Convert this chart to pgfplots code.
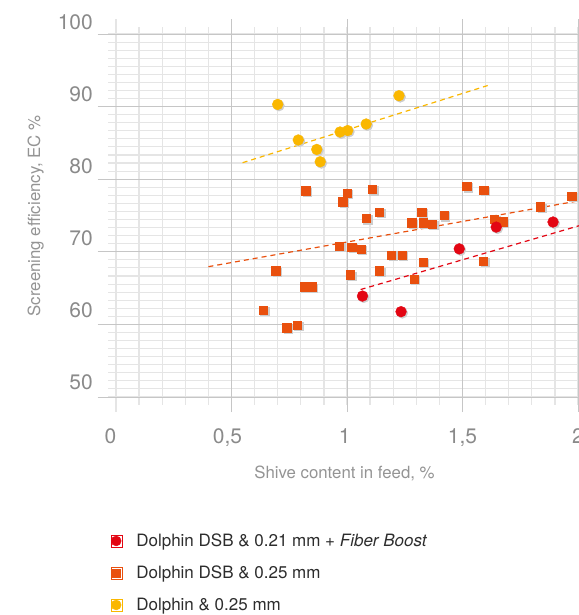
\documentclass[border=0pt]{standalone}
\usepackage{pgfplots}
\usepackage{pgfplotstable}
\pgfplotsset{compat=1.18}
\usepackage{fontspec}
\setmainfont{TeX Gyre Heros}

\definecolor{dsbred}{RGB}{227,6,19}
\definecolor{dsborange}{RGB}{233,80,14}
\definecolor{dolyellow}{RGB}{250,183,0}
\definecolor{shadow}{RGB}{205,205,205}
\definecolor{gridmajor}{RGB}{198,198,198}
\definecolor{gridminor}{RGB}{229,229,229}
\definecolor{ticktext}{RGB}{138,138,138}
\definecolor{labeltext}{RGB}{148,148,148}
\definecolor{legendtext}{RGB}{45,45,45}

% Dolphin & 0.25 mm
\pgfplotstableread{
x y
0.700 90.3
0.789 85.4
0.869 84.1
0.884 82.4
0.970 86.5
1.003 86.7
1.083 87.6
1.225 91.5
}\yellowdata

% Dolphin DSB & 0.25 mm
\pgfplotstableread{
x y
0.638 62.0
0.691 67.4
0.739 59.55
0.785 59.9
0.815 65.2
0.847 65.2
0.821 78.4
0.967 70.8
0.981 76.9
1.001 78.1
1.015 66.85
1.020 70.66
1.061 70.4
1.084 74.6
1.110 78.6
1.141 75.5
1.141 67.4
1.193 69.56
1.239 69.56
1.280 74.0
1.291 66.25
1.323 75.5
1.330 74.0
1.330 68.6
1.370 73.8
1.421 75.0
1.518 79.0
1.592 78.5
1.591 68.7
1.638 74.5
1.674 74.15
1.838 76.2
1.973 77.7
}\orangedata

% Dolphin DSB & 0.21 mm + Fiber Boost
\pgfplotstableread{
x y
1.067 63.9
1.234 61.75
1.486 70.4
1.646 73.4
1.892 74.1
}\reddata

\begin{document}
\begin{tikzpicture}
\begin{axis}[
    scale only axis,
    width=480.5pt, height=392.8pt,
    xmin=-0.08, xmax=2, ymin=47.9, ymax=102,
    clip=false,
    axis line style={draw=none},
    major tick length=0pt, minor tick length=0pt,
    xtick={-0.024,0.483,0.99,1.5,2.0},
    xticklabels={0,{0,5},1,{1,5},2},
    ytick={51.06,60.98,70.89,80.81,90.73,100.65},
    yticklabels={50,60,70,80,90,100},
    xticklabel style={anchor=base, yshift=-31.1pt, inner sep=0pt,
        font=\fontsize{21}{25}\selectfont, text=ticktext},
    yticklabel style={anchor=base east, xshift=-4.5pt, inner sep=0pt,
        font=\fontsize{21}{25}\selectfont, text=ticktext},
    xlabel={Shive content in feed, \%},
    ylabel={Screening efficiency, EC \%},
    xlabel style={at={(0.514,-0.1675)}, anchor=base, inner sep=0pt,
        font=\fontsize{16.8}{20}\selectfont, text=labeltext},
    ylabel style={at={(-0.1197,0.5)}, anchor=base, inner sep=0pt,
        font=\fontsize{16.8}{20}\selectfont, text=labeltext},
    legend style={at={(0.02702,-0.31200)}, anchor=north west,
        draw=none, fill=none, inner sep=0pt, outer sep=0pt,
        column sep=14.4pt, row sep=19.6pt,
        font=\fontsize{17}{20}\selectfont, text=legendtext,
        nodes={inner sep=0pt, text height=12pt, text depth=0pt},
        cells={anchor=west}},
    legend image code/.code={
        \path (-5.5pt,-6pt) rectangle (5.5pt,6pt);
        \draw[#1] plot coordinates {(0pt,0pt)};
    },
]

% grid, drawn by hand for the uneven extents
\pgfplotsinvokeforeach{0,...,45}{
    \draw[gridminor, line width=1.1pt] (axis cs:-0.034,{50+#1*10/9}) -- (axis cs:2.01,{50+#1*10/9});
}
\pgfplotsinvokeforeach{1,...,20}{
    \draw[gridminor, line width=1.3pt] (axis cs:{#1/10},48.9) -- (axis cs:{#1/10},100.96);
}
\draw[gridminor, line width=1.3pt] (axis cs:0,47.9) -- (axis cs:0,102);
\pgfplotsinvokeforeach{0.5,1,1.5,2}{
    \draw[gridmajor, line width=0.9pt] (axis cs:#1,47.9) -- (axis cs:#1,102);
}
\pgfplotsinvokeforeach{50,60,70,80,90,100}{
    \draw[gridmajor, line width=0.9pt] (axis cs:-0.08,#1) -- (axis cs:2.01,#1);
}

% trend lines
\addplot[dolyellow, dash pattern=on 5pt off 4pt, line width=1.2pt, forget plot]
    coordinates {(0.548,82.27) (1.612,92.93)};
\addplot[dsborange, dash pattern=on 5pt off 4pt, line width=1.2pt, forget plot]
    coordinates {(0.40,67.95) (2.01,77.06)};
\addplot[dsbred, dash pattern=on 5pt off 4pt, line width=1.2pt, forget plot]
    coordinates {(1.059,64.8) (2.01,73.64)};

% soft shadows
\addplot[only marks, mark=*, mark size=5.4pt, shadow, forget plot,
    mark options={draw=shadow, fill=shadow, xshift=1.3pt, yshift=-1.3pt}] table {\yellowdata};
\addplot[only marks, mark=square*, mark size=4.1pt, shadow, forget plot,
    mark options={draw=shadow, fill=shadow, xshift=1.3pt, yshift=-1.3pt}] table {\orangedata};
\addplot[only marks, mark=*, mark size=5.4pt, shadow, forget plot,
    mark options={draw=shadow, fill=shadow, xshift=1.3pt, yshift=-1.3pt}] table {\reddata};

% data
\addplot[only marks, mark=*, mark size=5.4pt, dolyellow, forget plot,
    mark options={draw=dolyellow, fill=dolyellow}] table {\yellowdata};
\addplot[only marks, mark=square*, mark size=4.1pt, dsborange, forget plot,
    mark options={draw=dsborange, fill=dsborange}] table {\orangedata};
\addplot[only marks, mark=*, mark size=5.4pt, dsbred, forget plot,
    mark options={draw=dsbred, fill=dsbred}] table {\reddata};

\addlegendimage{only marks, mark=*, mark size=5pt, dsbred, mark options={draw=dsbred, fill=dsbred}}
\addlegendentry{Dolphin DSB \& 0.21 mm + \textit{Fiber Boost}}
\addlegendimage{only marks, mark=square*, mark size=4pt, dsborange, mark options={draw=dsborange, fill=dsborange}}
\addlegendentry{Dolphin DSB \& 0.25 mm}
\addlegendimage{only marks, mark=*, mark size=5pt, dolyellow, mark options={draw=dolyellow, fill=dolyellow}}
\addlegendentry{Dolphin \& 0.25 mm}

\coordinate (bbsw) at (axis cs:-0.5022,19.97);
\coordinate (bbne) at (axis cs:2.0043,104.68);
\end{axis}
\pgfresetboundingbox
\path[use as bounding box] (bbsw) rectangle (bbne);
\end{tikzpicture}
\end{document}
